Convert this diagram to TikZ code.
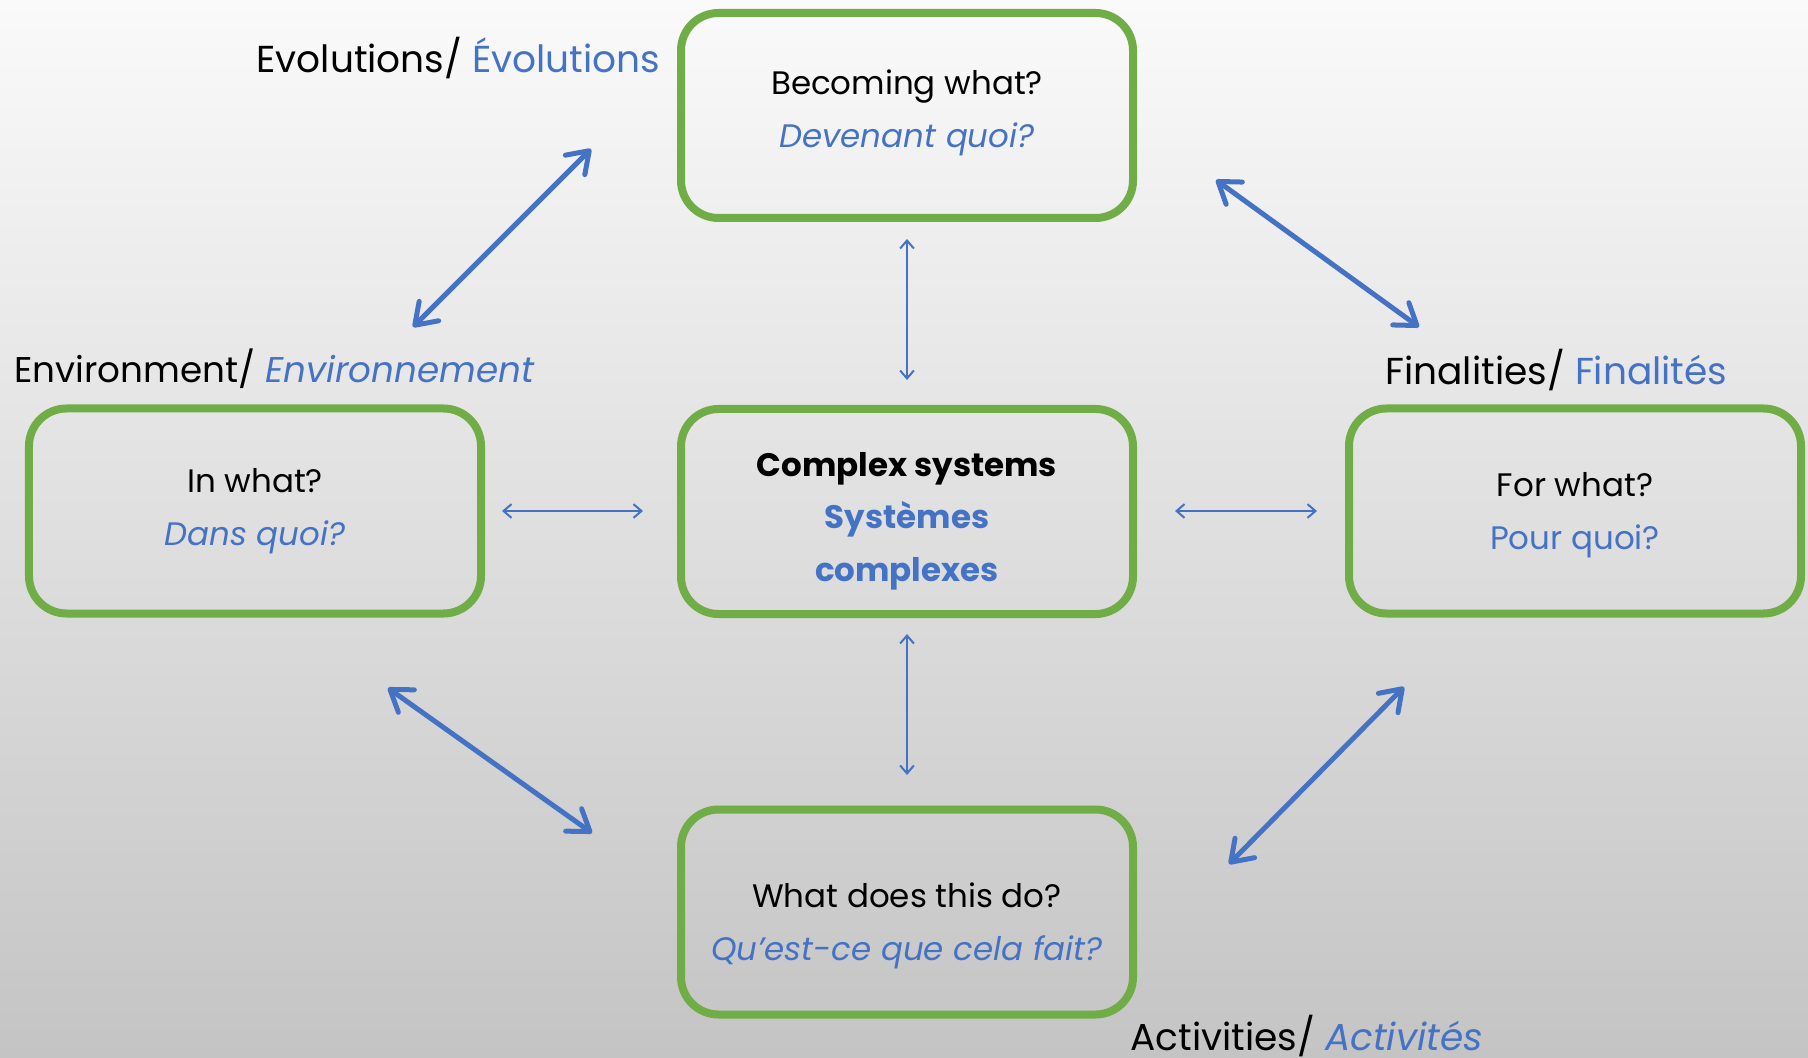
\documentclass[tikz,border=0pt]{standalone}
\usepackage{fontspec}
\setmainfont{Poppins}
\usetikzlibrary{arrows.meta}
\definecolor{grn}{HTML}{70AD47}
\definecolor{blu}{HTML}{4472C4}
\definecolor{bgtop}{HTML}{FAFAFA}
\definecolor{bgbot}{HTML}{C4C4C4}
\begin{document}
\begin{tikzpicture}[x=0.4pt,y=-0.4pt,
  qbox/.style={draw=grn, line width=3.2pt, rounded corners=15pt,
    minimum width=180.8pt, minimum height=82pt, inner sep=0pt},
  qtext/.style={align=center, font=\fontsize{13}{21}\selectfont, inner sep=0pt},
  lbl/.style={anchor=base west, inner sep=0pt, font=\fontsize{15}{18}\selectfont},
  bigarrow/.style={draw=blu, line width=2pt, line cap=round,
    {Straight Barb[length=8pt,width=11pt,line cap=round,line join=round]}-{Straight Barb[length=8pt,width=11pt,line cap=round,line join=round]}},
  smallarrow/.style={draw=blu, line width=0.8pt,
    {Straight Barb[length=3.2pt,width=5.5pt]}-{Straight Barb[length=3.2pt,width=5.5pt]}}
]
\shade[top color=bgtop, bottom color=bgbot] (0,0) rectangle (1808,1058);
\useasboundingbox (0,0) rectangle (1808,1058);

\node[qbox] (top) at (907,115.5) {};
\node[qtext] (topt) at (907,113) {Becoming what?\\\textcolor{blu}{\itshape Devenant quoi?}};
\node[qbox] (mid) at (907,511.5) {};
\node[qtext] (midt) at (907,521) {\bfseries Complex systems\\\textcolor{blu}{\bfseries Systèmes}\\\textcolor{blu}{\bfseries complexes}};
\node[qbox] (left) at (255,511) {};
\node[qtext] (leftt) at (255,511) {In what?\\\textcolor{blu}{\itshape Dans quoi?}};
\node[qbox] (right) at (1575,511) {};
\node[qtext] (rightt) at (1575,515) {For what?\\\textcolor{blu}{Pour quoi?}};
\node[qbox] (bot) at (907,912) {};
\node[qtext] (bott) at (907,926) {What does this do?\\\textcolor{blu}{\itshape Qu’est-ce que cela fait?}};

\node[lbl] (lev) at (256,73) {Evolutions/ \textcolor{blu}{Évolutions}};
\node[lbl, font=\fontsize{14.3}{18}\selectfont] (lenv) at (14,383) {Environment/ \textcolor{blu}{\itshape Environnement}};
\node[lbl] (lfin) at (1385,385) {Finalities/ \textcolor{blu}{Finalités}};
\node[lbl] (lact) at (1130,1050) {Activities/ \textcolor{blu}{\itshape Activités}};

\coordinate (a1) at (413,327); \coordinate (a2) at (591,149);
\coordinate (b1) at (1216,180); \coordinate (b2) at (1419,327);
\coordinate (c1) at (388,688); \coordinate (c2) at (592,833);
\coordinate (d1) at (1404,687); \coordinate (d2) at (1229,864);
\draw[bigarrow] (a1) -- (a2);
\draw[bigarrow] (b1) -- (b2);
\draw[bigarrow] (c1) -- (c2);
\draw[bigarrow] (d1) -- (d2);

\coordinate (e1) at (907,239); \coordinate (e2) at (907,380);
\coordinate (f1) at (907,634); \coordinate (f2) at (907,775);
\coordinate (g1) at (502,511); \coordinate (g2) at (643,511);
\coordinate (h1) at (1175,511); \coordinate (h2) at (1317,511);
\draw[smallarrow] (e1) -- (e2);
\draw[smallarrow] (f1) -- (f2);
\draw[smallarrow] (g1) -- (g2);
\draw[smallarrow] (h1) -- (h2);
\end{tikzpicture}
\end{document}
